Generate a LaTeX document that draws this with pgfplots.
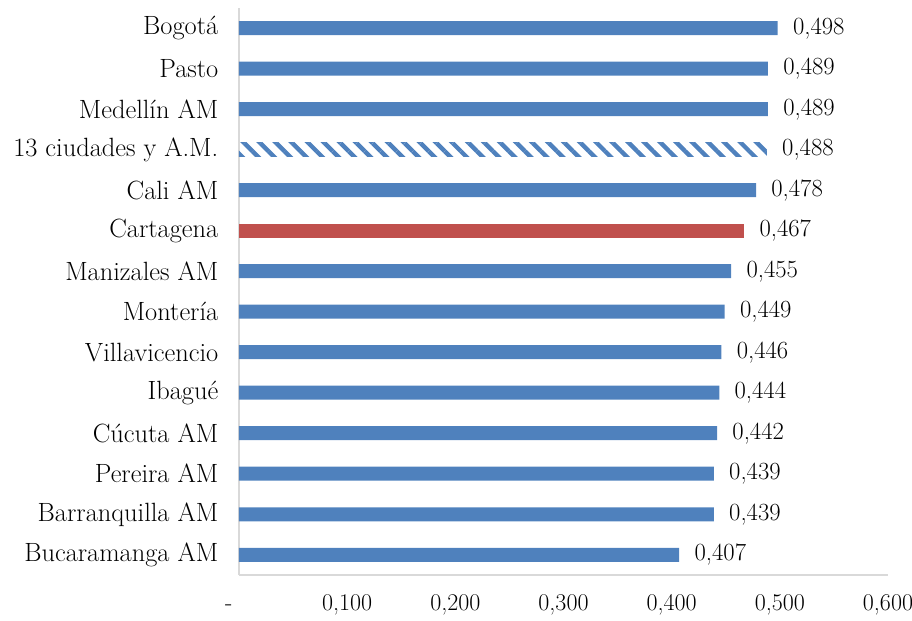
\documentclass[border=0pt]{standalone}
\usepackage{pgfplots}
\pgfplotsset{compat=1.18}
\usetikzlibrary{patterns.meta}
\definecolor{barblue}{HTML}{4F81BD}
\definecolor{barred}{HTML}{C0504D}
\definecolor{axgray}{HTML}{D9D9D9}
\begin{document}
\begin{tikzpicture}[x=0.75pt,y=0.75pt]
\useasboundingbox (-239,-45) rectangle (673,575);
\begin{axis}[
  at={(0,0)}, anchor=south west,
  scale only axis,
  width=486.75pt, height=425.25pt,
  xbar, bar width=10.5pt,
  xmin=0, xmax=0.6,
  ymin=-0.5, ymax=13.5,
  axis x line*=bottom, axis y line*=left,
  axis line style={axgray, line width=1pt, -},
  major tick length=0pt,
  xtick={0,0.1,0.2,0.3,0.4,0.5,0.6},
  xticklabels={\llap{-\hspace{5pt}},{0,100},{0,200},{0,300},{0,400},{0,500},{0,600}},
  xticklabel style={yshift=-11pt, font=\fontsize{18}{20}\selectfont, text height=12pt, text depth=3pt},
  ytick={0,...,13},
  yticklabels={Bucaramanga AM,Barranquilla AM,Pereira AM,Cúcuta AM,Ibagué,Villavicencio,Montería\ ,Manizales AM,Cartagena,Cali AM,13 ciudades y A.M.,Medellín AM,Pasto,Bogotá},
  yticklabel style={xshift=-12pt, font=\fontsize{19.8}{22}\selectfont},
  /pgf/number format/assume math mode=true,
  point meta=x,
  nodes near coords,
  nodes near coords style={font=\fontsize{18.5}{20}\selectfont, anchor=west, xshift=8pt,
    /pgf/number format/.cd, fixed, fixed zerofill, precision=3, use comma, assume math mode=true},
  clip=false,
]
\addplot[bar shift=0pt, fill=barblue, draw=none] coordinates {
(0.407,0) (0.439,1) (0.439,2) (0.442,3) (0.444,4) (0.446,5) (0.449,6) (0.455,7) (0.478,9) (0.489,11) (0.489,12) (0.498,13)};
\addplot[bar shift=0pt, fill=barred, draw=none] coordinates {(0.467,8)};
\addplot[bar shift=0pt, pattern={Lines[angle=-45, distance=8.5pt, line width=3.3pt]}, pattern color=barblue, draw=none] coordinates {(0.488,10)};
\end{axis}
\end{tikzpicture}
\end{document}
